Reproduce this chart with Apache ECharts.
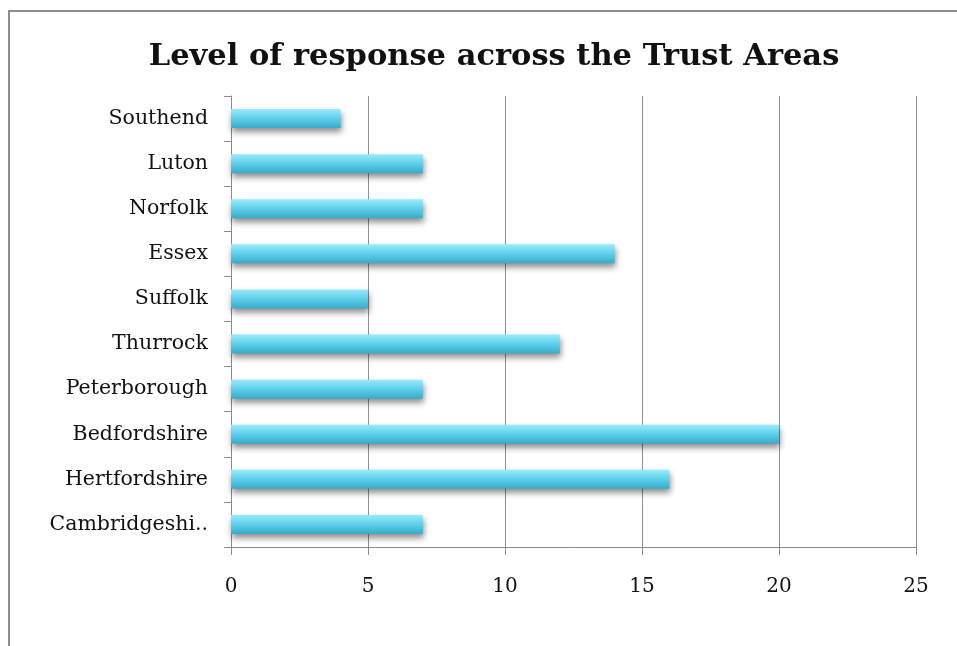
<!DOCTYPE html>
<html>
<head>
<meta charset="utf-8">
<script src="https://cdn.jsdelivr.net/npm/echarts@6/dist/echarts.min.js"></script>
<style>
  html, body { margin: 0; padding: 0; background: #fff; }
  #frame {
    position: absolute; left: 8px; top: 10px; right: -4px; bottom: -4px;
    border: 2px solid #8c8c8c; box-sizing: border-box;
  }
  #chart { position: absolute; left: 0; top: 0; width: 957px; height: 646px; }
</style>
</head>
<body>
<div id="frame"></div>
<div id="chart"></div>
<script>
  // data (bottom to top, as the axis draws them)
  const categories = ["Cambridgeshire", "Hertfordshire", "Bedfordshire", "Peterborough",
    "Thurrock", "Suffolk", "Essex", "Norfolk", "Luton", "Southend"];
  const responses = [7, 16, 20, 7, 12, 5, 14, 7, 7, 4];
  const titleText = "Level of response across the Trust Areas";

  const chart = echarts.init(document.getElementById("chart"));

  const option = {
    backgroundColor: "transparent",
    title: {
      text: titleText,
      left: 489,
      textAlign: "center",
      top: 37,
      textStyle: {
        fontFamily: "DejaVu Serif",
        fontWeight: "bold",
        fontSize: 30.5,
        color: "#111"
      }
    },
    grid: {
      left: 231,
      right: 41,
      top: 96,
      bottom: 99
    },
    xAxis: {
      type: "value",
      min: 0,
      max: 25,
      interval: 5,
      axisLine: { show: true, lineStyle: { color: "#8a8a8a", width: 1 } },
      axisTick: { show: true, length: 8, lineStyle: { color: "#8a8a8a" } },
      axisLabel: {
        margin: 30,
        fontFamily: "DejaVu Serif",
        fontSize: 20,
        color: "#111"
      },
      splitLine: { show: true, lineStyle: { color: "#8f8f8f", width: 1 } }
    },
    yAxis: {
      type: "category",
      data: categories,
      axisLine: { show: true, lineStyle: { color: "#8a8a8a", width: 1 } },
      axisTick: { show: true, length: 7, lineStyle: { color: "#8a8a8a" } },
      axisLabel: {
        margin: 23,
        fontFamily: "DejaVu Serif",
        fontSize: 20.5,
        color: "#111",
        formatter: (name) => name.length > 13 ? name.slice(0, 12) + ".." : name
      }
    },
    series: [
      {
        name: "Responses",
        type: "bar",
        data: responses,
        barWidth: 19,
        itemStyle: {
          color: new echarts.graphic.LinearGradient(0, 0, 0, 1, [
            { offset: 0, color: "#9aeafb" },
            { offset: 0.45, color: "#62d2ec" },
            { offset: 1, color: "#36abc9" }
          ]),
          shadowColor: "rgba(0,0,0,0.45)",
          shadowBlur: 6,
          shadowOffsetY: 4,
          shadowOffsetX: 1
        },
        emphasis: { disabled: true }
      }
    ]
  };

  chart.setOption(option);
</script>
</body>
</html>
